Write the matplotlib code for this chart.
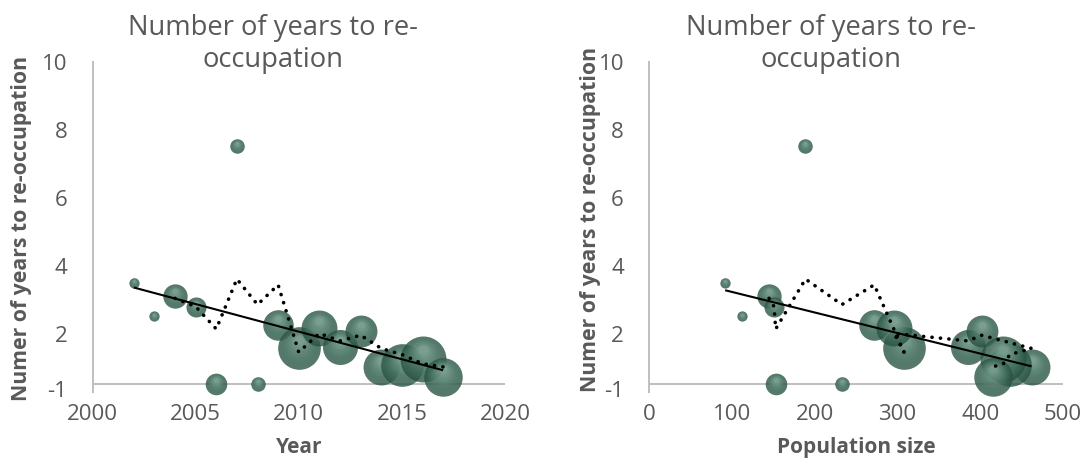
import numpy as np
import matplotlib
matplotlib.use("Agg")
import matplotlib.pyplot as plt
from matplotlib.transforms import ScaledTranslation

# ---- data -------------------------------------------------------------
years = [2002, 2003, 2004, 2005, 2006, 2007, 2008, 2009,
         2010, 2011, 2012, 2013, 2014, 2015, 2016, 2017]
population = [92, 112, 145, 151, 153, 189, 233, 272,
              308, 296, 385, 402, 462, 436, 428, 415]
years_to_reoccupation = [3.52, 2.53, 3.13, 2.80, 0.55, 7.53, 0.55, 2.29,
                         1.60, 2.20, 1.63, 2.10, 1.04, 1.09, 1.29, 0.76]
bubble_size = [5, 5, 28, 19, 22, 10, 10, 44, 86, 61, 58, 48, 61, 86, 100, 70]

y_tick_values = [0.40, 2, 4, 6, 8, 10]
y_tick_labels = ["-1", "2", "4", "6", "8", "10"]
year_ticks = [2000, 2005, 2010, 2015, 2020]
pop_ticks = [0, 100, 200, 300, 400, 500]

title_lines = ["Number of years to re-", "occupation"]
y_label = "Numer of years to re-occupation"

# ---- style ------------------------------------------------------------
plt.rcParams["font.family"] = ["Open Sans", "DejaVu Sans"]
GREY_TEXT = "#595959"
AXIS_GREY = "#bfbfbf"
W, H, DPI = 1091, 459, 100

fig = plt.figure(figsize=(W / DPI, H / DPI), dpi=DPI)

Y_BOTTOM, Y_TOP = 0.31, 10.0
AXIS_CROSS = 0.55


def px_rect(x0, x1, ytop, ybot):
    return [x0 / W, (H - ybot) / H, (x1 - x0) / W, (ybot - ytop) / H]


def lerp(c0, c1, t):
    return tuple((a + (b - a) * t) / 255 for a, b in zip(c0, c1))


def draw_bubble(ax, x, y, size):
    r_px = 23.0 * np.sqrt(size / 100.0)
    r_pt = r_px * 72.0 / DPI
    # base sphere
    ax.scatter([x], [y], s=(2 * r_pt) ** 2, color=lerp((40, 82, 66), (40, 82, 66), 0),
               alpha=0.78, linewidths=0, zorder=3, clip_on=False)
    # shading toward the highlight near the top
    n = 10
    for i in range(1, n + 1):
        t = i / n
        rr = r_pt * (1 - 0.80 * t)
        dy = r_pt * 0.38 * t
        trans = ax.transData + ScaledTranslation(0, dy / 72.0, fig.dpi_scale_trans)
        ax.scatter([x], [y], s=(2 * rr) ** 2,
                   color=lerp((66, 112, 94), (160, 195, 180), t),
                   alpha=0.17, linewidths=0, zorder=3, clip_on=False,
                   transform=trans)


def moving_average(values, period=3):
    v = np.asarray(values, dtype=float)
    return np.convolve(v, np.ones(period) / period, mode="valid")


def make_panel(rect, xvals, xlim, xticks, xlabel, ylabel_xy, title_cx):
    ax = fig.add_axes(rect)
    ax.set_xlim(*xlim)
    ax.set_ylim(Y_BOTTOM, Y_TOP)
    for side in ("top", "right", "bottom"):
        ax.spines[side].set_visible(False)
    ax.spines["left"].set_color(AXIS_GREY)
    ax.spines["left"].set_linewidth(1.4)
    ax.axhline(AXIS_CROSS, color=AXIS_GREY, lw=1.4, zorder=1)

    ax.set_xticks(xticks)
    ax.set_xticklabels([str(t) for t in xticks])
    ax.set_yticks(y_tick_values)
    ax.set_yticklabels(y_tick_labels)
    ax.tick_params(axis="x", length=0, pad=8.5, labelsize=16, labelcolor=GREY_TEXT)
    ax.tick_params(axis="y", length=0, pad=18.0, labelsize=16, labelcolor=GREY_TEXT)

    for x, y, s in zip(xvals, years_to_reoccupation, bubble_size):
        draw_bubble(ax, x, y, s)

    # linear trendline
    xs = np.asarray(xvals, dtype=float)
    coef = np.polyfit(xs, years_to_reoccupation, 1)
    xx = np.array([xs.min(), xs.max()])
    ax.plot(xx, np.polyval(coef, xx), color="black", lw=1.5, zorder=5,
            solid_capstyle="butt")

    # 3-period moving average, in series order
    ma = moving_average(years_to_reoccupation, 3)
    ax.plot(xs[2:], ma, color="black", lw=2.6, zorder=6,
            linestyle=(0, (0.05, 2.3)), dash_capstyle="round")

    ax.set_xlabel(xlabel, fontsize=15, fontweight="bold", color=GREY_TEXT, va="center")
    ax.xaxis.set_label_coords(0.5, -0.168)
    ax.set_ylabel(y_label, fontsize=15.3, fontweight="bold", color=GREY_TEXT, va="center")
    ax.yaxis.set_label_coords(*ylabel_xy)

    fig.text(title_cx / W, (H - 35) / H, title_lines[0], ha="center",
             va="baseline", fontsize=19.7, color=GREY_TEXT)
    fig.text(title_cx / W, (H - 67) / H, title_lines[1], ha="center",
             va="baseline", fontsize=19.7, color=GREY_TEXT)
    return ax


make_panel(px_rect(92.5, 505, 62, 392), years, (2000, 2020), year_ticks,
           "Year", (-0.171, 0.497), 273)
make_panel(px_rect(649, 1063, 62, 392), population, (0, 500), pop_ticks,
           "Population size", (-0.1425, 0.524), 831)

fig.savefig("out.png", dpi=DPI)
